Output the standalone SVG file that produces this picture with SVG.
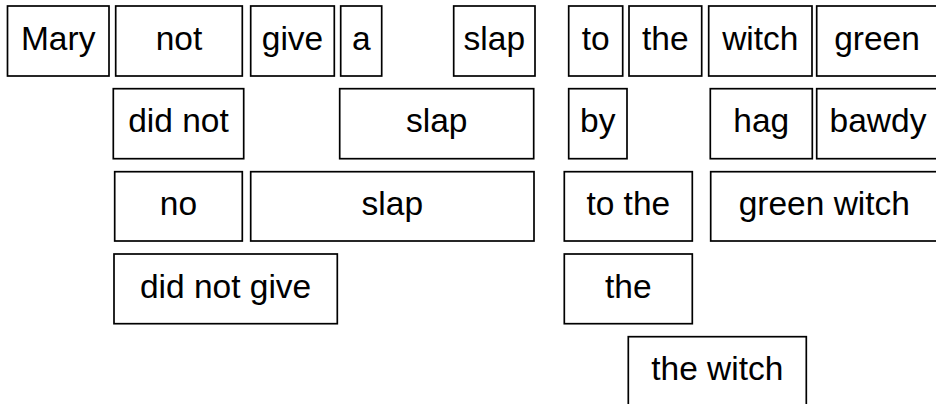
<svg xmlns="http://www.w3.org/2000/svg" width="936" height="404" viewBox="0 0 936 404">
<style>
rect{fill:#fff;stroke:#000;stroke-width:1.7}
text{font-family:"Liberation Sans",Arial,sans-serif;font-size:33.5px;fill:#000;text-anchor:middle}
</style>
<rect x="0" y="0" width="936" height="404" style="stroke:none"/>
<g id="connectors"></g>
<g id="n-mary"><rect x="7.5" y="6" width="101.5" height="70"/><text x="58.2" y="49.5">Mary</text></g>
<g id="n-not"><rect x="115.7" y="6" width="126.6" height="70"/><text x="179" y="49.5">not</text></g>
<g id="n-give"><rect x="250.7" y="6" width="83.6" height="70"/><text x="292.5" y="49.5">give</text></g>
<g id="n-a"><rect x="340.7" y="6" width="41" height="70"/><text x="361.2" y="49.5">a</text></g>
<g id="n-slap1"><rect x="453.7" y="6" width="81.3" height="70"/><text x="494.3" y="49.5">slap</text></g>
<g id="n-to"><rect x="568.7" y="6" width="54" height="70"/><text x="595.7" y="49.5">to</text></g>
<g id="n-the1"><rect x="629" y="6" width="72.7" height="70"/><text x="665.3" y="49.5">the</text></g>
<g id="n-witch"><rect x="708.7" y="6" width="103.3" height="70"/><text x="760.3" y="49.5">witch</text></g>
<g id="n-green"><rect x="816.7" y="6" width="122" height="70"/><text x="877" y="49.5">green</text></g>
<g id="n-didnot"><rect x="113.3" y="88.7" width="130.4" height="70"/><text x="178.5" y="132.2">did not</text></g>
<g id="n-slap2"><rect x="339.7" y="88.7" width="194" height="70"/><text x="436.7" y="132.2">slap</text></g>
<g id="n-by"><rect x="568.7" y="88.7" width="58.3" height="70"/><text x="597.8" y="132.2">by</text></g>
<g id="n-hag"><rect x="710.3" y="88.7" width="102" height="70"/><text x="761.3" y="132.2">hag</text></g>
<g id="n-bawdy"><rect x="816.7" y="88.7" width="122" height="70"/><text x="878" y="132.2">bawdy</text></g>
<g id="n-no"><rect x="114.7" y="171.7" width="127.6" height="69.3"/><text x="178.5" y="215">no</text></g>
<g id="n-slap3"><rect x="250.7" y="171.7" width="283.3" height="69.3"/><text x="392.3" y="215">slap</text></g>
<g id="n-tothe"><rect x="564.3" y="171.7" width="128" height="69.3"/><text x="628.3" y="215">to the</text></g>
<g id="n-greenwitch"><rect x="710.7" y="171.7" width="228" height="69.3"/><text x="824.3" y="215">green witch</text></g>
<g id="n-didnotgive"><rect x="114" y="254" width="223.3" height="69.7"/><text x="225.6" y="297.5">did not give</text></g>
<g id="n-the2"><rect x="564.3" y="254" width="128" height="69.7"/><text x="628.3" y="297.5">the</text></g>
<g id="n-thewitch"><rect x="628.3" y="336.7" width="178" height="80"/><text x="717.3" y="380.2">the witch</text></g>
</svg>
